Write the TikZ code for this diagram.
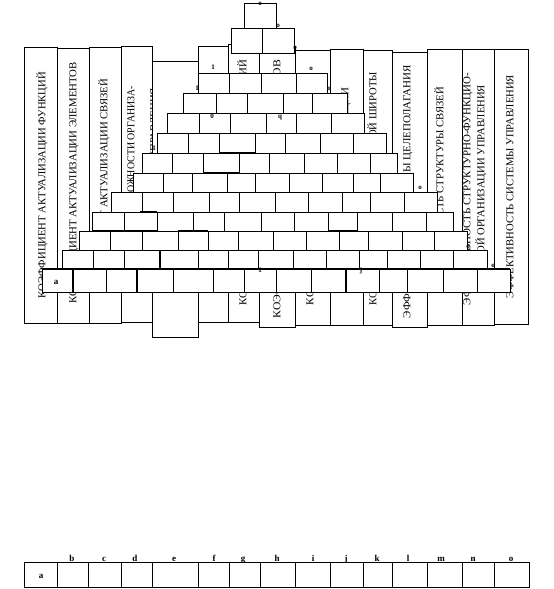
\documentclass[tikz,border=0pt]{standalone}
\usepackage{fontspec}
\setmainfont{Liberation Serif}
\usepackage{graphicx}
\newcommand\brickrow[3]{%
  \foreach \xx [remember=\xx as \xp (initially -1)] in {#3}{%
    \ifnum\xp>-1 \draw[brick] (\xp,#1) rectangle (\xx,#2);\fi}}
\newcommand\ctxt[5]{%
  \pgfmathsetmacro\ctlen{#4-#3}%
  \pgfmathsetmacro\ctmid{(#3+#4)/2}%
  \pgfmathsetmacro\ctx{#2+3.45}%
  \node[ctext,anchor=base] (#1) at (\ctx,\ctmid) {\resizebox{\ctlen pt}{\height}{#5}};}
\begin{document}
\begin{tikzpicture}[x=1pt,y=-1pt,
  col/.style={draw=black,fill=white,line width=0.8pt},
  brick/.style={draw=black,fill=white,line width=0.8pt},
  heavy/.style={draw=black,line width=1.5pt},
  ctext/.style={rotate=90,inner sep=0pt,font=\fontsize{10.6}{12}\selectfont},
  lbl/.style={inner sep=0pt,font=\bfseries\fontsize{9}{10}\selectfont},
  tinylbl/.style={inner sep=0pt,font=\bfseries\fontsize{7}{8}\selectfont}]
\useasboundingbox (0,0) rectangle (554,589);
\fill[white] (0,0) rectangle (554,589);
% columns (all but e)
\foreach \xa/\xb/\yt/\yb in {24/57/47/323,57/89/48/323,89/121/47/323,121/152/46/322,198/228/46/322,228/259/44/322,259/295/46/327,295/330/50/325,330/363/49/325,363/392/50/325,392/427/52/327,427/462/49/325,462/494/49/325,494/528/49/324}
  \draw[col] (\xa,\yt) rectangle (\xb,\yb);
% column texts
\ctxt{ta}{42}{72}{298}{КОЭФФИЦИЕНТ АКТУАЛИЗАЦИИ ФУНКЦИЙ}
\ctxt{tb}{73}{62}{303}{КОЭФФИЦИЕНТ АКТУАЛИЗАЦИИ ЭЛЕМЕНТОВ}
\ctxt{tc}{104}{79}{293}{КОЭФФИЦИЕНТ АКТУАЛИЗАЦИИ СВЯЗЕЙ}
\ctxt{td}{131}{86}{285}{КОЭФФИЦИЕНТ СЛОЖНОСТИ ОРГАНИЗА-}
\ctxt{tdd}{154}{88}{283}{ЦИОННОЙ СТРУКТУРЫ УПРАВЛЕНИЯ}
\ctxt{tg}{243}{60}{305}{КОЭФФИЦИЕНТ ВЗАИМОДЕЙСТВИЯ ФУНКЦИЙ}
\ctxt{th}{277}{60}{318}{КОЭФФИЦИЕНТ ИСПОЛЬЗОВАНИЯ РЕСУРСОВ}
\ctxt{ti}{310}{80}{305}{КОЭФФИЦИЕНТ ЗВЕННОСТИ СТРУКТУРЫ}
\ctxt{tj}{345}{88}{268}{КОЭФФИЦИЕНТ ЦЕНТРАЛИЗАЦИИ}
\ctxt{tk}{373}{72}{305}{КОЭФФИЦИЕНТ УПРАВЛЕНЧЕСКОЙ ШИРОТЫ}
\ctxt{tl}{407}{65}{318}{ЭФФЕКТИВНОСТЬ СИСТЕМЫ ЦЕЛЕПОЛАГАНИЯ}
\ctxt{tm}{440}{87}{290}{ЭФФЕКТИВНОСТЬ СТРУКТУРЫ СВЯЗЕЙ}
\ctxt{tn}{467}{73}{305}{ЭФФЕКТИВНОСТЬ СТРУКТУРНО-ФУНКЦИО-}
\ctxt{tnn}{481}{85}{290}{НАЛЬНОЙ ОРГАНИЗАЦИИ УПРАВЛЕНИЯ}
\ctxt{to}{510}{75}{298}{ЭФФЕКТИВНОСТЬ СИСТЕМЫ УПРАВЛЕНИЯ}
% column e on top
\draw[col] (152,61) rectangle (198,337);
% pyramid
\brickrow{3}{28}{244,276}
\brickrow{28}{53}{231,262,294}
\brickrow{73}{93}{198,229,261,296,327}
\brickrow{93}{113}{183,216,247,283,312,347}
\brickrow{113}{133}{167,199,230,266,296,331,364}
\brickrow{133}{153}{157,188,219,255,285,320,353,386}
\brickrow{153}{173}{142,172,203,239,269,304,337,370,397}
\brickrow{173}{192}{133,163,192,227,255,289,322,353,380,413}
\brickrow{192}{212}{111,142,173,209,239,275,308,342,370,404,437}
\brickrow{212}{231}{92,124,157,193,224,261,294,328,357,392,426,453}
\brickrow{231}{250}{79,110,142,178,208,238,273,306,339,368,402,434,467}
\brickrow{250}{269}{62,93,124,160,198,228,258,293,326,359,387,420,453,487}
\brickrow{269}{292}{42,73,106,137,173,213,244,276,311,346,379,407,443,477,510}
% doubled edges
\draw[heavy] (42,269) -- (510,269);
\draw[heavy] (73,269) -- (73,292);
\draw[heavy] (137,269) -- (137,292);
\draw[heavy] (346,269) -- (346,292);
\draw[heavy] (160,250) -- (160,269);
\draw[heavy] (219,153) -- (255,153);
\draw[heavy] (203,173) -- (239,173);
\draw[heavy] (92,231) -- (157,231);
\draw[heavy] (178,231) -- (208,231);
\draw[heavy] (328,231) -- (357,231);
\draw[heavy] (140,212) -- (157,212);
% small label fragments
\foreach \t/\x/\y in {o/260/3.6,o/278/26,o/295/48,o/311/69,o/329/89,o/420/188,o/468/247,o/493/266,1/213/67,1/197/88,1/154/148,0/212/116,q/280/118,1/260/270,j/361/271}
  \node[tinylbl] at (\x,\y) {\t};
\node[lbl] (pyra) at (56,282) {a};
% bottom row
\foreach \xa/\xb in {24/57,57/88,88/121,121/152,152/198,198/229,229/260,260/295,295/330,330/363,363/392,392/427,427/462,462/494,494/529}
  \draw[col] (\xa,562) rectangle (\xb,587);
\node[lbl] (laba) at (41,576) {a};
\foreach \lt/\x in {b/72,c/104,d/135,e/174,f/214,g/243,h/277,i/313,j/346,k/377,l/408,m/441,n/473,o/511}
  \node[lbl,anchor=base] (lab\lt) at (\x,561) {\lt};
\end{tikzpicture}
\end{document}
